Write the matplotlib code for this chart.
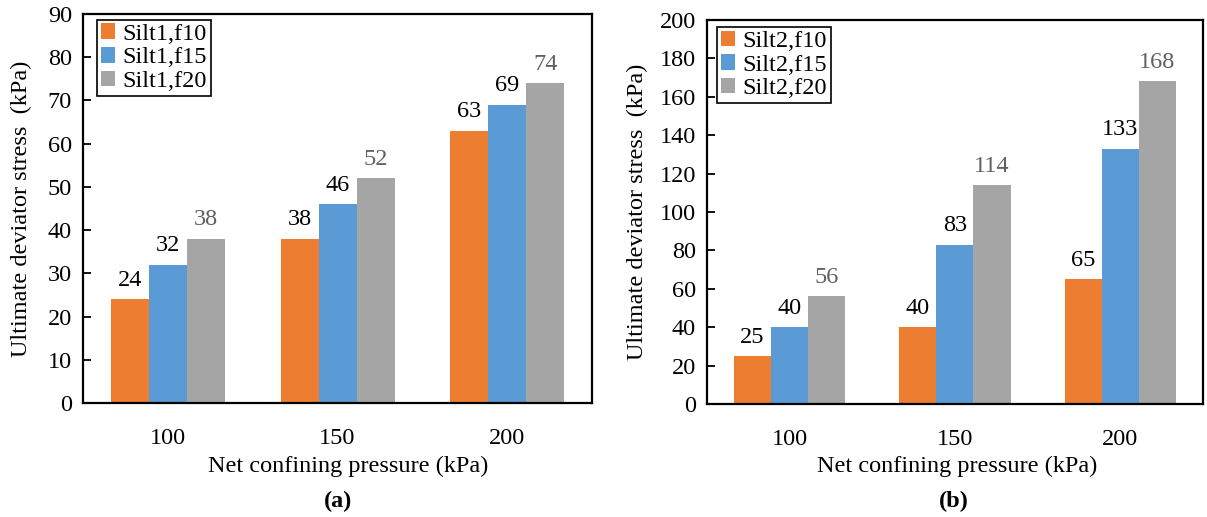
import numpy as np
import matplotlib.pyplot as plt

plt.rcParams['font.family'] = ['Liberation Serif', 'DejaVu Serif']

pressures = ['100', '150', '200']
colors = ['#ED7D31', '#5B9BD5', '#A5A5A5']
label_colors = ['black', 'black', '#606060']

silt1_names = ['Silt1,f10', 'Silt1,f15', 'Silt1,f20']
silt1_f10 = [24, 38, 63]
silt1_f15 = [32, 46, 69]
silt1_f20 = [38, 52, 74]

silt2_names = ['Silt2,f10', 'Silt2,f15', 'Silt2,f20']
silt2_f10 = [25, 40, 65]
silt2_f15 = [40, 83, 133]
silt2_f20 = [56, 114, 168]

FS = 17.5


def grouped_bars(ax, series, names, ymax, ystep, label_x, xlabel_x, legend_anchor):
    x = np.arange(len(pressures))
    width = 0.224
    for i, (vals, name) in enumerate(zip(series, names)):
        bars = ax.bar(x + (i - 1) * width, vals, width, color=colors[i], label=name)
        for b, v in zip(bars, vals):
            ax.annotate(str(v), (b.get_x() + b.get_width() / 2, v),
                        xytext=(0, 6), textcoords='offset points',
                        ha='center', va='bottom', fontsize=FS, color=label_colors[i])
    ax.set_xlim(-0.5, 2.5)
    ax.set_ylim(0, ymax)
    ax.set_yticks(np.arange(0, ymax + 1, ystep))
    ax.set_xticks(x)
    ax.set_xticklabels(pressures)
    ax.tick_params(axis='x', length=0, pad=18, labelsize=FS)
    ax.tick_params(axis='y', direction='in', length=6, width=1.3, labelsize=FS, pad=8)
    for s in ax.spines.values():
        s.set_linewidth(1.6)
    ax.set_xlabel('Net confining pressure (kPa)', fontsize=FS)
    ax.xaxis.set_label_coords(xlabel_x, -0.135)
    ax.set_ylabel('Ultimate deviator stress  (kPa)', fontsize=FS)
    ax.yaxis.set_label_coords(label_x, 0.5)
    leg = ax.legend(loc='upper left', bbox_to_anchor=legend_anchor, fontsize=FS,
                    fancybox=False, framealpha=1, edgecolor='black',
                    handlelength=0.6, handleheight=0.6, handletextpad=0.3,
                    labelspacing=0.1, borderpad=0.15, borderaxespad=0)
    leg.get_frame().set_linewidth(1.2)


fig = plt.figure(figsize=(12.07, 5.17), dpi=100)
ax1 = fig.add_axes([0.0688, 0.2205, 0.4217, 0.7524])
ax2 = fig.add_axes([0.5857, 0.2186, 0.411, 0.7427])

grouped_bars(ax1, [silt1_f10, silt1_f15, silt1_f20], silt1_names, 90, 10,
             -0.100, 0.52, (0.0275, 0.985))
grouped_bars(ax2, [silt2_f10, silt2_f15, silt2_f20], silt2_names, 200, 20,
             -0.119, 0.505, (0.02, 0.982))

fig.text(0.28, 0.03, '(a)', ha='center', va='center', fontsize=FS, fontweight='bold')
fig.text(0.79, 0.03, '(b)', ha='center', va='center', fontsize=FS, fontweight='bold')

fig.savefig('out.png', dpi=100)
